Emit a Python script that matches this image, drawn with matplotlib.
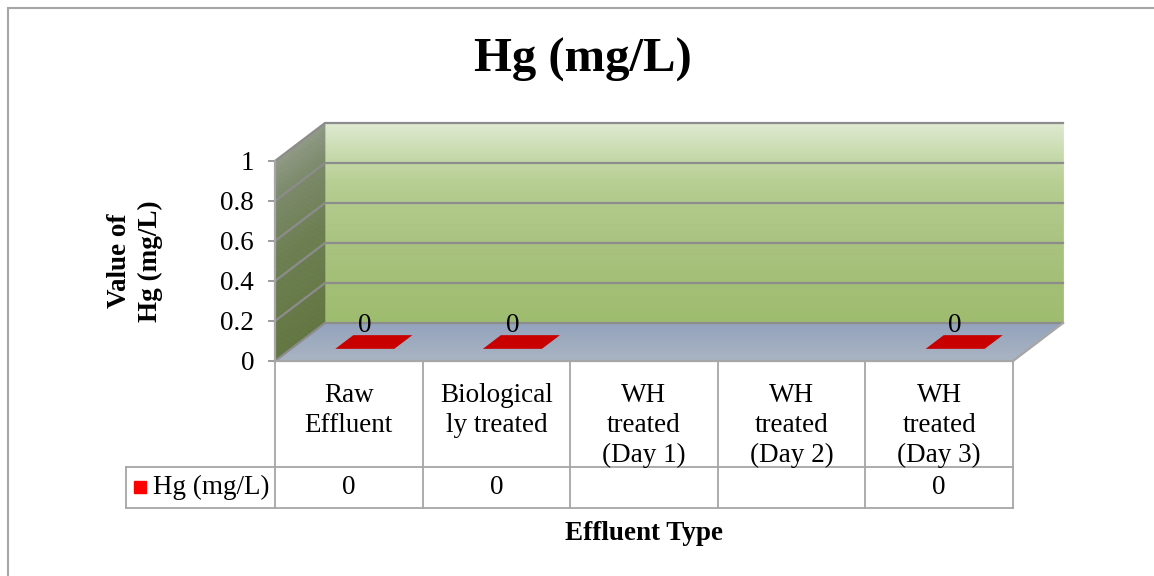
import numpy as np
import matplotlib.pyplot as plt
from matplotlib.patches import Polygon, Rectangle
from matplotlib.transforms import blended_transform_factory

plt.rcParams['font.family'] = ['Liberation Serif', 'DejaVu Serif']

# --- DATA ---
categories = ["Raw\nEffluent", "Biological\nly treated", "WH\ntreated\n(Day 1)",
              "WH\ntreated\n(Day 2)", "WH\ntreated\n(Day 3)"]
hg_values = [0, 0, None, None, 0]
series_name = "Hg (mg/L)"
y_ticks = [0, 0.2, 0.4, 0.6, 0.8, 1.0]
y_tick_labels = ["0", "0.2", "0.4", "0.6", "0.8", "1"]

# --- STYLE ---
W, H = 1154, 576
AX_L, AX_R, AX_TOP, AX_BOT = 275, 1013, 161, 361   # front plane, px
DEPTH_PX = (50, 38)                                # back plane offset, px
BAR_W = 0.4
BAR_D0, BAR_D1 = 0.32, 0.68
HEADER_H, ROW_H, KEY_CELL_W = 106, 41, 149
GRID = '#8C8C8C'
LINE = '#A6A6A6'
FS = 19.5

fig = plt.figure(figsize=(W / 100, H / 100), dpi=100)
ax = fig.add_axes([AX_L / W, (H - AX_BOT) / H, (AX_R - AX_L) / W, (AX_BOT - AX_TOP) / H])
n = len(categories)
ax.set_xlim(-0.5, n - 0.5)
ax.set_ylim(0, 1)
ax.patch.set_visible(False)

# depth offset expressed in data units
ax_w_px, ax_h_px = AX_R - AX_L, AX_BOT - AX_TOP
ddx = DEPTH_PX[0] / (ax_w_px / n)
ddy = DEPTH_PX[1] / ax_h_px


def P(x, y, d):
    return (x + d * ddx, y + d * ddy)


def poly(pts, color, z, ec='none', lw=0):
    ax.add_patch(Polygon(pts, closed=True, fc=color, ec=ec, lw=lw, zorder=z, clip_on=False))


def mix(stops, t):
    pos = [s[0] for s in stops]
    cols = np.array([s[1] for s in stops], dtype=float) / 255
    return tuple(np.interp(t, pos, cols[:, k]) for k in range(3))


x0, x1 = -0.5, n - 0.5
N = 80

# back wall gradient
back_stops = [(0, (157, 187, 109)), (0.4, (168, 194, 126)), (0.7, (182, 205, 145)),
              (0.85, (199, 218, 172)), (1, (222, 233, 208))]
for k in range(N):
    a, b = k / N, (k + 1) / N
    poly([P(x0, a, 1), P(x1, a, 1), P(x1, b, 1), P(x0, b, 1)], mix(back_stops, (a + b) / 2), 0.5,
         ec=mix(back_stops, (a + b) / 2), lw=0.5)

# side wall gradient
side_stops = [(0, (97, 117, 64)), (0.5, (108, 126, 80)), (0.8, (122, 136, 104)), (1, (143, 152, 132))]
for k in range(N):
    a, b = k / N, (k + 1) / N
    c = mix(side_stops, (a + b) / 2)
    poly([P(x0, a, 0), P(x0, a, 1), P(x0, b, 1), P(x0, b, 0)], c, 0.5, ec=c, lw=0.5)

# floor gradient (front -> back)
floor_stops = [(0, (170, 180, 194)), (1, (147, 163, 188))]
for k in range(N):
    a, b = k / N, (k + 1) / N
    c = mix(floor_stops, (a + b) / 2)
    poly([P(x0, 0, a), P(x1, 0, a), P(x1, 0, b), P(x0, 0, b)], c, 1, ec=c, lw=0.5)

# gridlines on side and back wall
for v in y_ticks:
    pts = np.array([P(x0, v, 0), P(x0, v, 1), P(x1, v, 1)])
    ax.plot(pts[:, 0], pts[:, 1], color=GRID, lw=1.6, zorder=1.2, clip_on=False)
edge = np.array([P(x1, 0, 0), P(x1, 0, 1)])
ax.plot(edge[:, 0], edge[:, 1], color=LINE, lw=1.6, zorder=1.3, clip_on=False)

# bars (3D boxes)
for i, v in enumerate(hg_values):
    if v is None:
        continue
    bx0, bx1 = i - BAR_W / 2, i + BAR_W / 2
    poly([P(bx0, 0, BAR_D0), P(bx1, 0, BAR_D0), P(bx1, v, BAR_D0), P(bx0, v, BAR_D0)], '#C00000', 3)
    poly([P(bx1, 0, BAR_D0), P(bx1, 0, BAR_D1), P(bx1, v, BAR_D1), P(bx1, v, BAR_D0)], '#900000', 3)
    poly([P(bx0, v, BAR_D0), P(bx1, v, BAR_D0), P(bx1, v, BAR_D1), P(bx0, v, BAR_D1)], '#C80000', 3.1)
    ax.annotate(f"{v:g}", xy=P(i, v, BAR_D0), xytext=(0, 12), textcoords='offset points',
                ha='center', va='baseline', fontsize=FS, zorder=4, annotation_clip=False)

# axes styling
ax.set_xticks([])
ax.set_yticks(y_ticks, y_tick_labels)
ax.tick_params(axis='y', direction='out', length=5, width=1.2, color=GRID, labelsize=FS, pad=10)
for s in ['top', 'right']:
    ax.spines[s].set_visible(False)
for s in ['left', 'bottom']:
    ax.spines[s].set_color(LINE)
    ax.spines[s].set_linewidth(1.6)

# data table
xt = blended_transform_factory(ax.transData, ax.transAxes)
hdr = -HEADER_H / ax_h_px
row = -(HEADER_H + ROW_H) / ax_h_px
key_x = x0 - KEY_CELL_W / (ax_w_px / n)
for b in np.arange(n + 1) - 0.5:
    ax.plot([b, b], [0, row], color=LINE, lw=1.3, transform=xt, clip_on=False)
for yy in (hdr, row):
    ax.plot([key_x, x1], [yy, yy], color=LINE, lw=1.3, transform=xt, clip_on=False)
ax.plot([key_x, key_x], [hdr, row], color=LINE, lw=1.3, transform=xt, clip_on=False)

for i, cat in enumerate(categories):
    ax.text(i, -22 / ax_h_px, cat, transform=xt, ha='center', va='top', fontsize=FS,
            linespacing=1.25)
    if hg_values[i] is not None:
        ax.text(i, (hdr + row) / 2, f"{hg_values[i]:g}", transform=xt, ha='center',
                va='center', fontsize=FS)

key_cx = key_x + 14 / (ax_w_px / n)
ax.plot([key_cx], [(hdr + row) / 2 + 1 / ax_h_px], marker='s', ms=8.5, color='#FF0000',
        transform=xt, clip_on=False)
ax.text(key_x + 27 / (ax_w_px / n), (hdr + row) / 2, series_name, transform=xt,
        ha='left', va='center', fontsize=FS)

# axis titles and chart title
ax.text(0.5, -0.86, "Effluent Type", transform=ax.transAxes, ha='center', va='center',
        fontsize=FS, fontweight='bold')
ax.text(-0.19, 0.5, "Value of\nHg (mg/L)", transform=ax.transAxes, rotation=90,
        ha='center', va='center', fontsize=FS, fontweight='bold', linespacing=1.28)
fig.text(0.505, 1 - 60 / H, "Hg (mg/L)", ha='center', va='center', fontsize=35,
         fontweight='bold')

# chart area border (left and top visible)
fig.add_artist(Rectangle((8 / W, -0.1), 1.2, 1.1 - 8 / H, transform=fig.transFigure,
                         fill=False, ec=LINE, lw=1.5))

fig.savefig('out.png', dpi=100)
